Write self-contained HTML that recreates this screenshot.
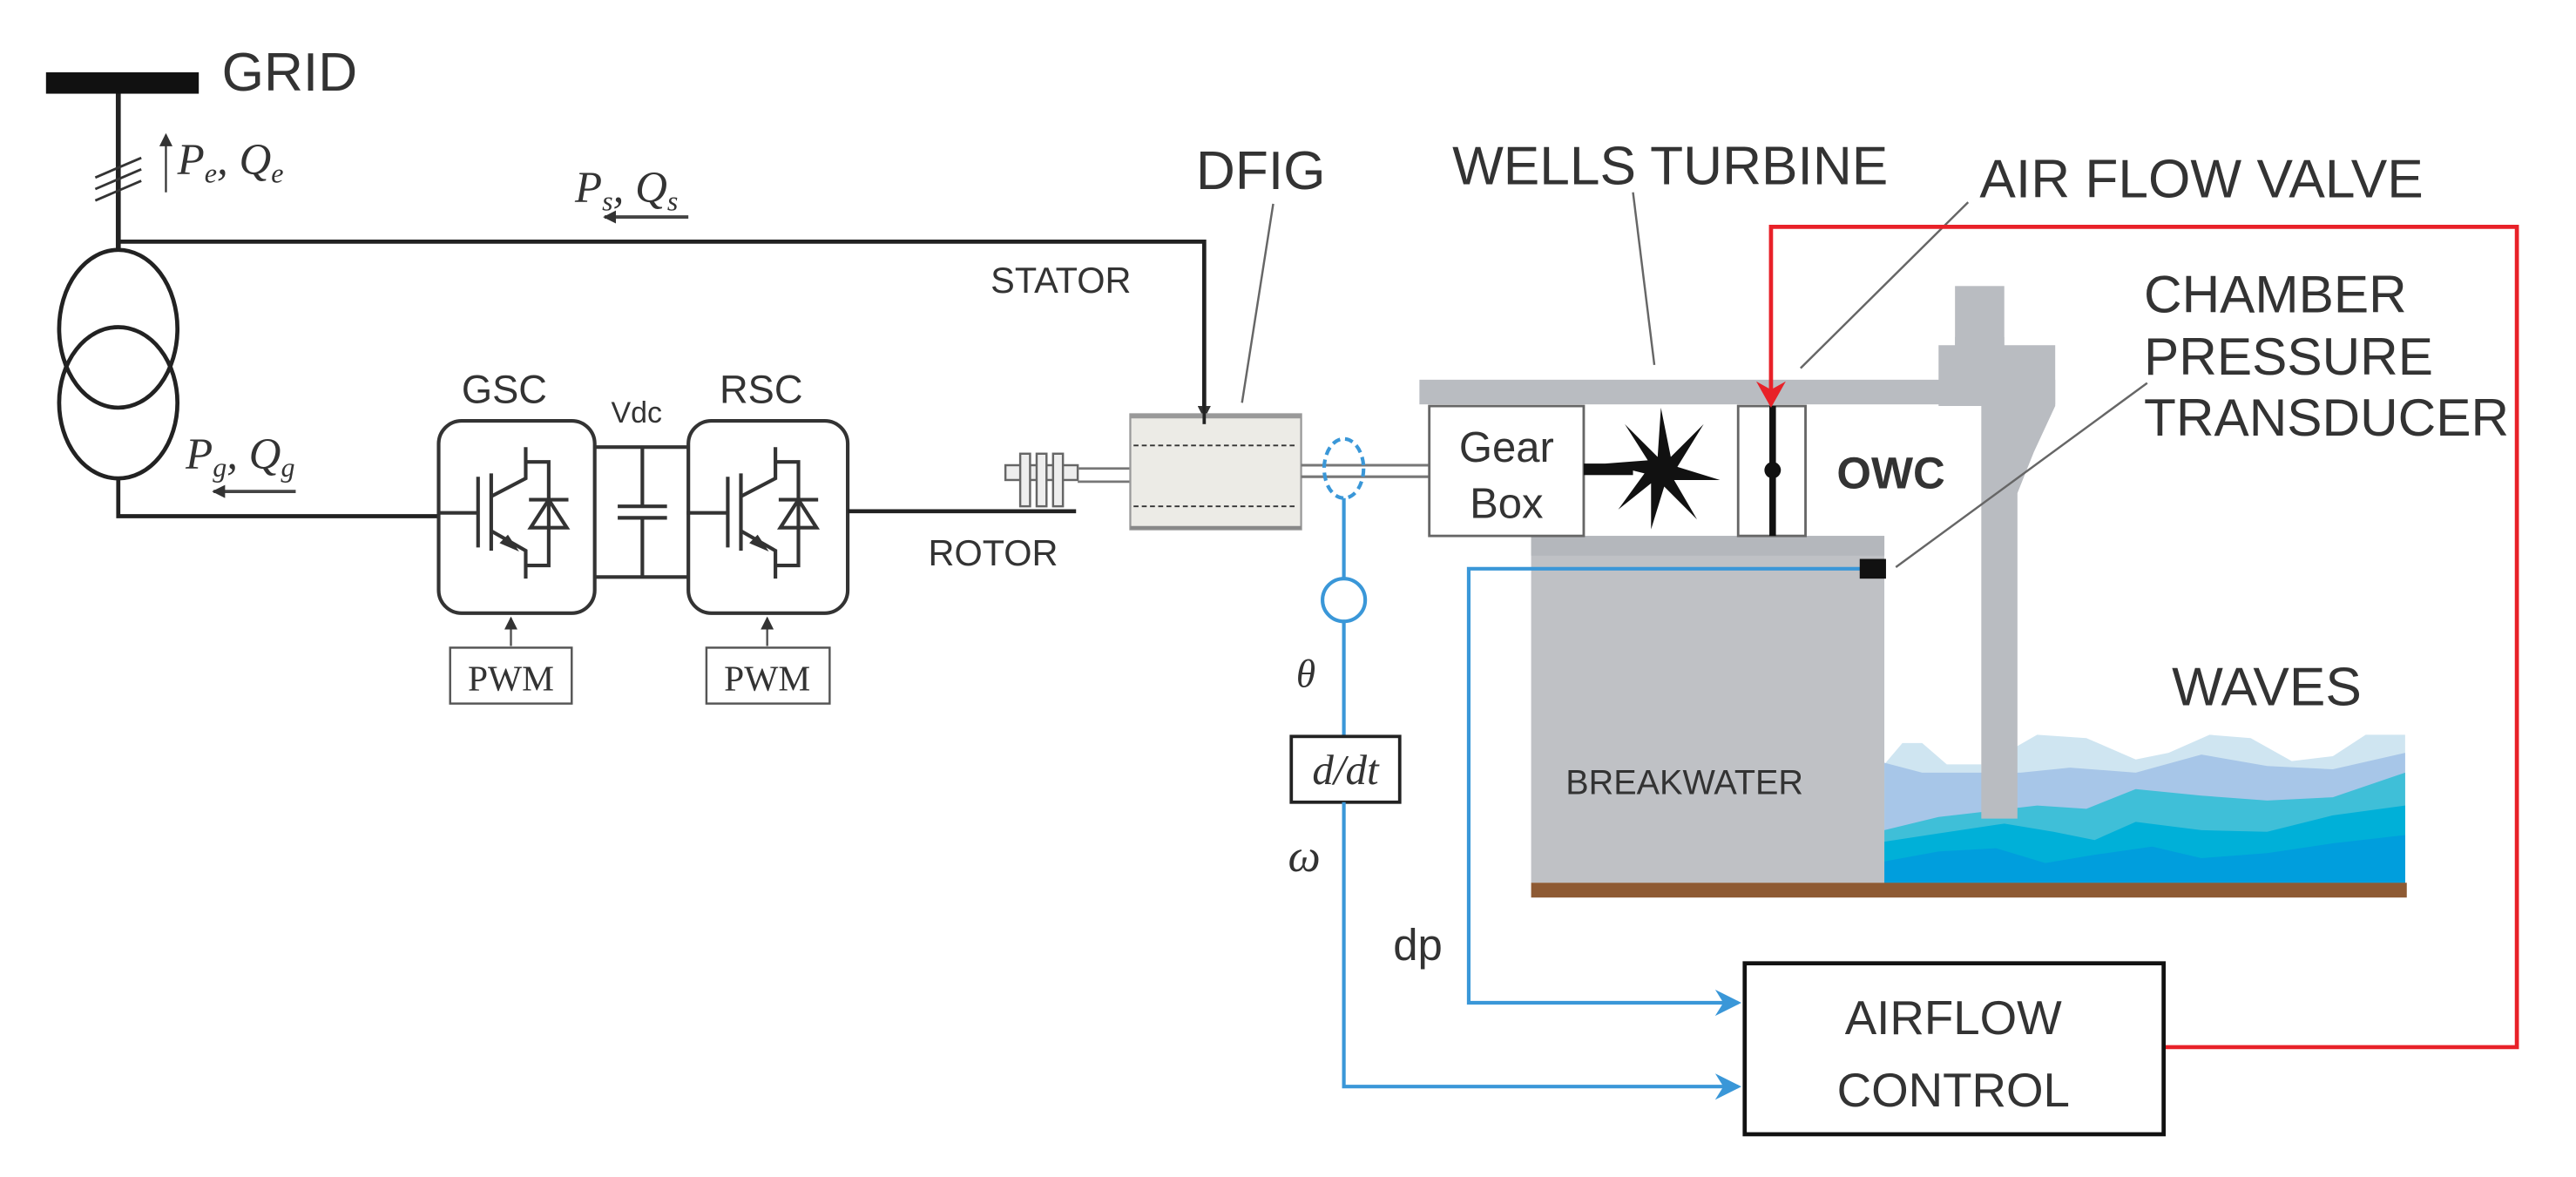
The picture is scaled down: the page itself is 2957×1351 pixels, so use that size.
<!DOCTYPE html>
<html><head><meta charset="utf-8"><style>
html,body{margin:0;padding:0;background:#fff;}
svg{display:block;}
.s{font-family:"Liberation Sans",sans-serif;fill:#333;}
.m{font-family:"Liberation Serif",serif;font-style:italic;fill:#333;}
</style></head><body>
<svg width="2957" height="1351" viewBox="0 0 1568 716" preserveAspectRatio="none" xmlns="http://www.w3.org/2000/svg">
<defs>
<marker id="ab" markerWidth="8" markerHeight="8" refX="7" refY="4" orient="auto" markerUnits="userSpaceOnUse"><path d="M0,0 L8,4 L0,8 Z" fill="#333"/></marker>
<marker id="ar" markerWidth="16" markerHeight="20" refX="14" refY="10" orient="auto" markerUnits="userSpaceOnUse"><path d="M0,1 L16,10 L0,19 L5,10 Z" fill="#e82128"/></marker>
<marker id="abl" markerWidth="16" markerHeight="18" refX="14" refY="9" orient="auto" markerUnits="userSpaceOnUse"><path d="M0,1 L16,9 L0,17 L5,9 Z" fill="#3a97d8"/></marker>
<g id="igbt" fill="none" stroke="#333" stroke-width="2.2">
<line x1="266" y1="312" x2="291" y2="312"/>
<line x1="291" y1="290" x2="291" y2="333"/>
<line x1="299" y1="288" x2="299" y2="335"/>
<polyline points="299,302 320,291 320,272"/>
<polyline points="320,281 334,281 334,344 320,344"/>
<polyline points="299,323 320,335 320,352"/>
<line x1="322" y1="304" x2="346" y2="304"/>
<path d="M334,304 L323,321 L345,321 Z"/>
<path d="M306,330 L313,333 L309,327 Z" fill="#333"/>
</g>
</defs>

<!-- GRID -->
<rect x="28" y="44" width="93" height="13" fill="#111"/>
<text x="135" y="55" class="s" font-size="33">GRID</text>
<line x1="72" y1="57" x2="72" y2="152" stroke="#222" stroke-width="3"/>
<g stroke="#333" stroke-width="1.5">
<line x1="58" y1="108" x2="86" y2="96"/><line x1="58" y1="115" x2="86" y2="103"/><line x1="58" y1="122" x2="86" y2="110"/>
</g>
<line x1="101" y1="117" x2="101" y2="82" stroke="#333" stroke-width="1.2" marker-end="url(#ab)"/>
<text x="108" y="106" class="m" font-size="27">P<tspan font-size="17" dy="5">e</tspan><tspan dy="-5">, Q</tspan><tspan font-size="17" dy="5">e</tspan></text>

<!-- stator line -->
<polyline points="72,147 733,147 733,254" fill="none" stroke="#222" stroke-width="2.5" marker-end="url(#ab)"/>
<text x="350" y="123" class="m" font-size="27">P<tspan font-size="17" dy="5">s</tspan><tspan dy="-5">, Q</tspan><tspan font-size="17" dy="5">s</tspan></text>
<line x1="419" y1="132" x2="368" y2="132" stroke="#444" stroke-width="2" marker-end="url(#ab)"/>
<text x="603" y="178" class="s" font-size="22">STATOR</text>

<!-- transformer -->
<ellipse cx="72" cy="200" rx="36" ry="48" fill="none" stroke="#222" stroke-width="2.5"/>
<ellipse cx="72" cy="245" rx="36" ry="46" fill="none" stroke="#222" stroke-width="2.5"/>
<polyline points="72,291 72,314 266,314" fill="none" stroke="#222" stroke-width="2.5"/>
<text x="113" y="285" class="m" font-size="27">P<tspan font-size="17" dy="5">g</tspan><tspan dy="-5">, Q</tspan><tspan font-size="17" dy="5">g</tspan></text>
<line x1="180" y1="299" x2="130" y2="299" stroke="#444" stroke-width="2" marker-end="url(#ab)"/>

<!-- converters -->
<text x="281" y="245" class="s" font-size="24">GSC</text>
<text x="372" y="257" class="s" font-size="18">Vdc</text>
<text x="438" y="245" class="s" font-size="24">RSC</text>
<rect x="267" y="256" width="95" height="117" rx="14" fill="#fff" stroke="#333" stroke-width="2.2"/>
<rect x="419" y="256" width="97" height="117" rx="14" fill="#fff" stroke="#333" stroke-width="2.2"/>
<use href="#igbt"/>
<use href="#igbt" transform="translate(152,0)"/>
<g stroke="#333" stroke-width="2.2" fill="none">
<line x1="362" y1="272" x2="419" y2="272"/><line x1="362" y1="351" x2="419" y2="351"/>
<line x1="391" y1="272" x2="391" y2="308"/><line x1="391" y1="315" x2="391" y2="351"/>
<line x1="376" y1="308" x2="406" y2="308"/><line x1="376" y1="315" x2="406" y2="315"/>
</g>
<line x1="311" y1="393" x2="311" y2="376" stroke="#555" stroke-width="1.3" marker-end="url(#ab)"/>
<line x1="467" y1="393" x2="467" y2="376" stroke="#555" stroke-width="1.3" marker-end="url(#ab)"/>
<rect x="274" y="394" width="74" height="34" fill="#fff" stroke="#555" stroke-width="1.3"/>
<rect x="430" y="394" width="75" height="34" fill="#fff" stroke="#555" stroke-width="1.3"/>
<text x="311" y="420" font-size="22" text-anchor="middle" fill="#333" style="font-family:'Liberation Serif',serif">PWM</text>
<text x="467" y="420" font-size="22" text-anchor="middle" fill="#333" style="font-family:'Liberation Serif',serif">PWM</text>

<!-- rotor -->
<line x1="516" y1="311" x2="655" y2="311" stroke="#222" stroke-width="2.5"/>
<text x="565" y="344" class="s" font-size="22">ROTOR</text>
<g stroke="#666" stroke-width="1.3" fill="#eee">
<rect x="612" y="283" width="44" height="9"/>
<rect x="621" y="276" width="6" height="32"/><rect x="631" y="276" width="6" height="32"/><rect x="641" y="276" width="6" height="32"/>
</g>
<line x1="656" y1="285" x2="688" y2="285" stroke="#777" stroke-width="1.5"/>
<line x1="656" y1="293" x2="688" y2="293" stroke="#777" stroke-width="1.5"/>

<!-- DFIG -->
<text x="728" y="115" class="s" font-size="33">DFIG</text>
<line x1="775" y1="124" x2="756" y2="245" stroke="#666" stroke-width="1.3"/>
<rect x="688" y="252" width="104" height="70" fill="#ecebe6" stroke="#999" stroke-width="1.2"/>
<line x1="688" y1="253" x2="792" y2="253" stroke="#999" stroke-width="3"/>
<line x1="688" y1="321" x2="792" y2="321" stroke="#888" stroke-width="2"/>
<line x1="690" y1="271" x2="790" y2="271" stroke="#333" stroke-width="1" stroke-dasharray="3,2"/>
<line x1="690" y1="308" x2="790" y2="308" stroke="#333" stroke-width="1" stroke-dasharray="3,2"/>
<line x1="733" y1="247" x2="733" y2="258" stroke="#222" stroke-width="2"/>
<line x1="792" y1="283" x2="870" y2="283" stroke="#777" stroke-width="1.6"/>
<line x1="792" y1="290" x2="870" y2="290" stroke="#777" stroke-width="1.6"/>

<!-- waves -->
<path d="M1147,465 L1158,452 L1170,452 L1185,465 L1206,465 L1206,537 L1147,537 Z" fill="#cfe5f1"/>
<path d="M1226,455 L1240,447 L1270,449 L1300,462 L1320,458 L1345,447 L1370,449 L1395,463 L1420,460 L1440,447 L1464,447 L1464,537 L1226,537 Z" fill="#cfe5f1"/>
<path d="M1147,464 L1170,470 L1230,470 L1260,467 L1300,470 L1340,459 L1380,466 L1420,468 L1464,458 L1464,537 L1147,537 Z" fill="#a7c6e8"/>
<path d="M1147,505 L1180,497 L1206,494 L1240,490 L1270,492 L1300,480 L1340,484 L1380,487 L1420,485 L1464,470 L1464,537 L1147,537 Z" fill="#3fbfd8"/>
<path d="M1147,512 L1180,507 L1220,501 L1250,506 L1275,511 L1300,500 L1340,505 L1380,506 L1420,496 L1464,490 L1464,537 L1147,537 Z" fill="#00b0d8"/>
<path d="M1147,524 L1180,518 L1215,516 L1245,525 L1275,520 L1310,515 L1340,522 L1380,519 L1420,513 L1464,508 L1464,537 L1147,537 Z" fill="#009edd"/>

<!-- structure -->
<rect x="864" y="231" width="387" height="15" fill="#b9bcc1"/>
<rect x="1190" y="174" width="30" height="40" fill="#b9bcc1"/>
<path d="M1180,210 L1190,210 L1190,205 L1220,205 L1220,210 L1251,210 L1251,247 L1238,275 L1228,300 L1228,498 L1206,498 L1206,247 L1180,247 Z" fill="#b9bcc1"/>
<rect x="932" y="326" width="215" height="211" fill="#bfc1c5"/>
<rect x="932" y="326" width="215" height="12" fill="#b4b7bc"/>
<text x="953" y="483" class="s" font-size="21" fill="#444">BREAKWATER</text>
<rect x="932" y="537" width="533" height="9" fill="#8e5a33"/>
<text x="1322" y="429" class="s" font-size="33">WAVES</text>

<!-- gearbox, turbine, valve -->
<rect x="870" y="247" width="94" height="79" fill="#fff" stroke="#666" stroke-width="1.5"/>
<text x="917" y="281" class="s" font-size="26" text-anchor="middle">Gear</text>
<text x="917" y="315" class="s" font-size="26" text-anchor="middle">Box</text>
<rect x="964" y="282" width="30" height="7" fill="#111"/>
<g transform="translate(1011,286)" fill="#111">
<path d="M0,-38 L6,-8 L26,-28 L10,-2 L36,6 L8,6 L22,30 L2,10 L-6,36 L-6,8 L-26,24 L-10,2 L-34,-4 L-8,-6 L-22,-28 L-2,-8 Z"/>
</g>
<rect x="1058" y="247" width="41" height="79" fill="#fff" stroke="#666" stroke-width="1.5"/>
<line x1="1079" y1="247" x2="1079" y2="326" stroke="#111" stroke-width="4"/>
<circle cx="1079" cy="286" r="5" fill="#111"/>
<text x="1118" y="297" class="s" font-size="27" font-weight="bold" fill="#222">OWC</text>

<!-- labels top right -->
<text x="884" y="112" class="s" font-size="33">WELLS TURBINE</text>
<line x1="994" y1="117" x2="1007" y2="222" stroke="#666" stroke-width="1.3"/>
<text x="1205" y="120" class="s" font-size="33">AIR FLOW VALVE</text>
<line x1="1198" y1="123" x2="1096" y2="224" stroke="#666" stroke-width="1.3"/>
<text x="1305" y="190" class="s" font-size="32">CHAMBER</text>
<text x="1305" y="228" class="s" font-size="32">PRESSURE</text>
<text x="1305" y="265" class="s" font-size="32">TRANSDUCER</text>
<line x1="1307" y1="233" x2="1154" y2="345" stroke="#666" stroke-width="1.3"/>

<!-- red control -->
<polyline points="1317,637 1532,637 1532,138 1078,138 1078,246" fill="none" stroke="#e82128" stroke-width="2.5" marker-end="url(#ar)"/>

<!-- blue -->
<ellipse cx="818" cy="285" rx="12" ry="18" fill="none" stroke="#3a97d8" stroke-width="2.2" stroke-dasharray="5,3"/>
<line x1="818" y1="303" x2="818" y2="352" stroke="#3a97d8" stroke-width="2.2"/>
<circle cx="818" cy="365" r="13" fill="none" stroke="#3a97d8" stroke-width="2.2"/>
<line x1="818" y1="378" x2="818" y2="448" stroke="#3a97d8" stroke-width="2.2"/>
<text x="789" y="418" class="m" font-size="24">θ</text>
<rect x="786" y="448" width="66" height="40" fill="#fff" stroke="#222" stroke-width="2"/>
<text x="819" y="477" class="m" font-size="26" text-anchor="middle" fill="#222">d/dt</text>
<polyline points="818,488 818,661 1058,661" fill="none" stroke="#3a97d8" stroke-width="2.2" marker-end="url(#abl)"/>
<text x="784" y="530" class="m" font-size="28">ω</text>
<polyline points="1140,346 894,346 894,610 1058,610" fill="none" stroke="#3a97d8" stroke-width="2.2" marker-end="url(#abl)"/>
<rect x="1132" y="340" width="16" height="12" fill="#111"/>
<text x="848" y="584" class="s" font-size="27">dp</text>

<rect x="1062" y="586" width="255" height="104" fill="#fff" stroke="#111" stroke-width="2.5"/>
<text x="1189" y="629" class="s" font-size="29" text-anchor="middle" fill="#111">AIRFLOW</text>
<text x="1189" y="673" class="s" font-size="29" text-anchor="middle" fill="#111">CONTROL</text>
</svg>
</body></html>
